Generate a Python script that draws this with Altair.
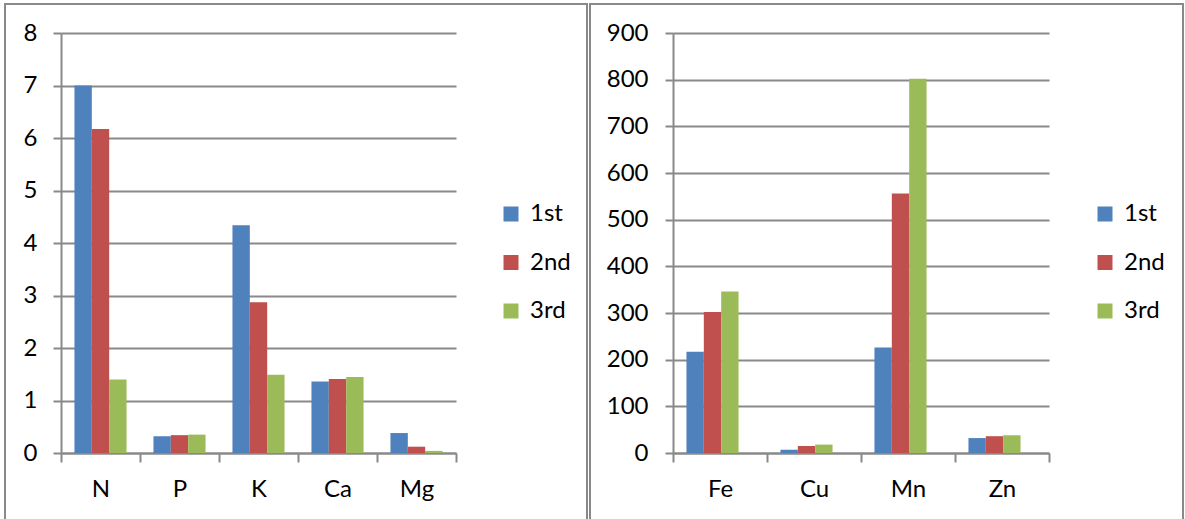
import altair as alt
import pandas as pd

# Sampling rounds and their colours
series = ["1st", "2nd", "3rd"]
series_colors = ["#4F81BD", "#C0504D", "#9BBB59"]

# Macronutrients
macro_elements = ["N", "P", "K", "Ca", "Mg"]
macro_1st = [7.00, 0.32, 4.34, 1.36, 0.38]
macro_2nd = [6.17, 0.34, 2.87, 1.41, 0.12]
macro_3rd = [1.40, 0.35, 1.49, 1.45, 0.04]
macro_ticks = [0, 1, 2, 3, 4, 5, 6, 7, 8]

# Micronutrients
micro_elements = ["Fe", "Cu", "Mn", "Zn"]
micro_1st = [217, 7, 226, 32]
micro_2nd = [302, 15, 556, 36]
micro_3rd = [346, 18, 802, 38]
micro_ticks = [0, 100, 200, 300, 400, 500, 600, 700, 800, 900]

GRAY = "#898989"
FONT = "Lato"
FONT_SIZE = 24
PLOT_H = 420


def long_table(elements, *rounds):
    rows = []
    for name, vals in zip(series, rounds):
        for el, v in zip(elements, vals):
            rows.append({"element": el, "round": name, "value": v})
    return pd.DataFrame(rows)


def panel(elements, rounds, ticks, plot_w, frame_box, legend_x, label_pad):
    df = long_table(elements, *rounds)
    bars = alt.Chart(df).mark_bar(strokeWidth=0).encode(
        x=alt.X(
            "element:N",
            sort=elements,
            scale=alt.Scale(paddingInner=0, paddingOuter=0),
            axis=alt.Axis(
                title=None,
                labelAngle=0,
                grid=False,
                tickBand="extent",
                tickSize=9,
                labelPadding=15,
            ),
        ),
        xOffset=alt.XOffset(
            "round:N",
            sort=series,
            scale=alt.Scale(paddingInner=0, paddingOuter=0.775),
        ),
        y=alt.Y(
            "value:Q",
            scale=alt.Scale(domain=[ticks[0], ticks[-1]], nice=False),
            axis=alt.Axis(
                title=None,
                values=ticks,
                grid=True,
                tickSize=8,
                labelPadding=label_pad,
            ),
        ),
        color=alt.Color(
            "round:N",
            sort=series,
            scale=alt.Scale(domain=series, range=series_colors),
            legend=alt.Legend(
                title=None,
                orient="none",
                legendX=legend_x,
                legendY=169,
                symbolType="square",
                symbolSize=225,
                symbolStrokeWidth=0,
                labelFont=FONT,
                labelFontSize=FONT_SIZE,
                labelColor="black",
                labelOffset=7,
                rowPadding=24.5,
                padding=0,
            ),
        ),
    )
    x0, x1, y0, y1 = frame_box
    frame = alt.Chart(pd.DataFrame({"f": [0]})).mark_rect(
        fillOpacity=0, stroke=GRAY, strokeWidth=2
    ).encode(
        x=alt.value(x0), x2=alt.value(x1), y=alt.value(y0), y2=alt.value(y1)
    )
    return alt.layer(frame, bars).properties(width=plot_w, height=PLOT_H)


left = panel(
    macro_elements, [macro_1st, macro_2nd, macro_3rd], macro_ticks,
    395, (-56, 526, -29, 500), 438, 16,
)
right = panel(
    micro_elements, [micro_1st, micro_2nd, micro_3rd], micro_ticks,
    376, (-83, 510, -29, 500), 420, 17,
)

chart = (
    alt.hconcat(left, right, spacing=217, bounds="flush")
    .resolve_scale(x="independent", y="independent", color="independent")
    .resolve_legend(color="independent")
    .properties(padding={"left": 4, "top": 3, "right": 0, "bottom": 0})
    .configure(background="white")
    .configure_view(stroke=None)
    .configure_axis(
        labelFont=FONT,
        labelFontSize=FONT_SIZE,
        labelColor="black",
        domainColor=GRAY,
        domainWidth=2,
        tickColor=GRAY,
        tickWidth=2,
        gridColor=GRAY,
        gridWidth=2,
        labelOverlap=False,
    )
)

chart.save("out.html", embed_options={"renderer": "svg", "actions": False})
